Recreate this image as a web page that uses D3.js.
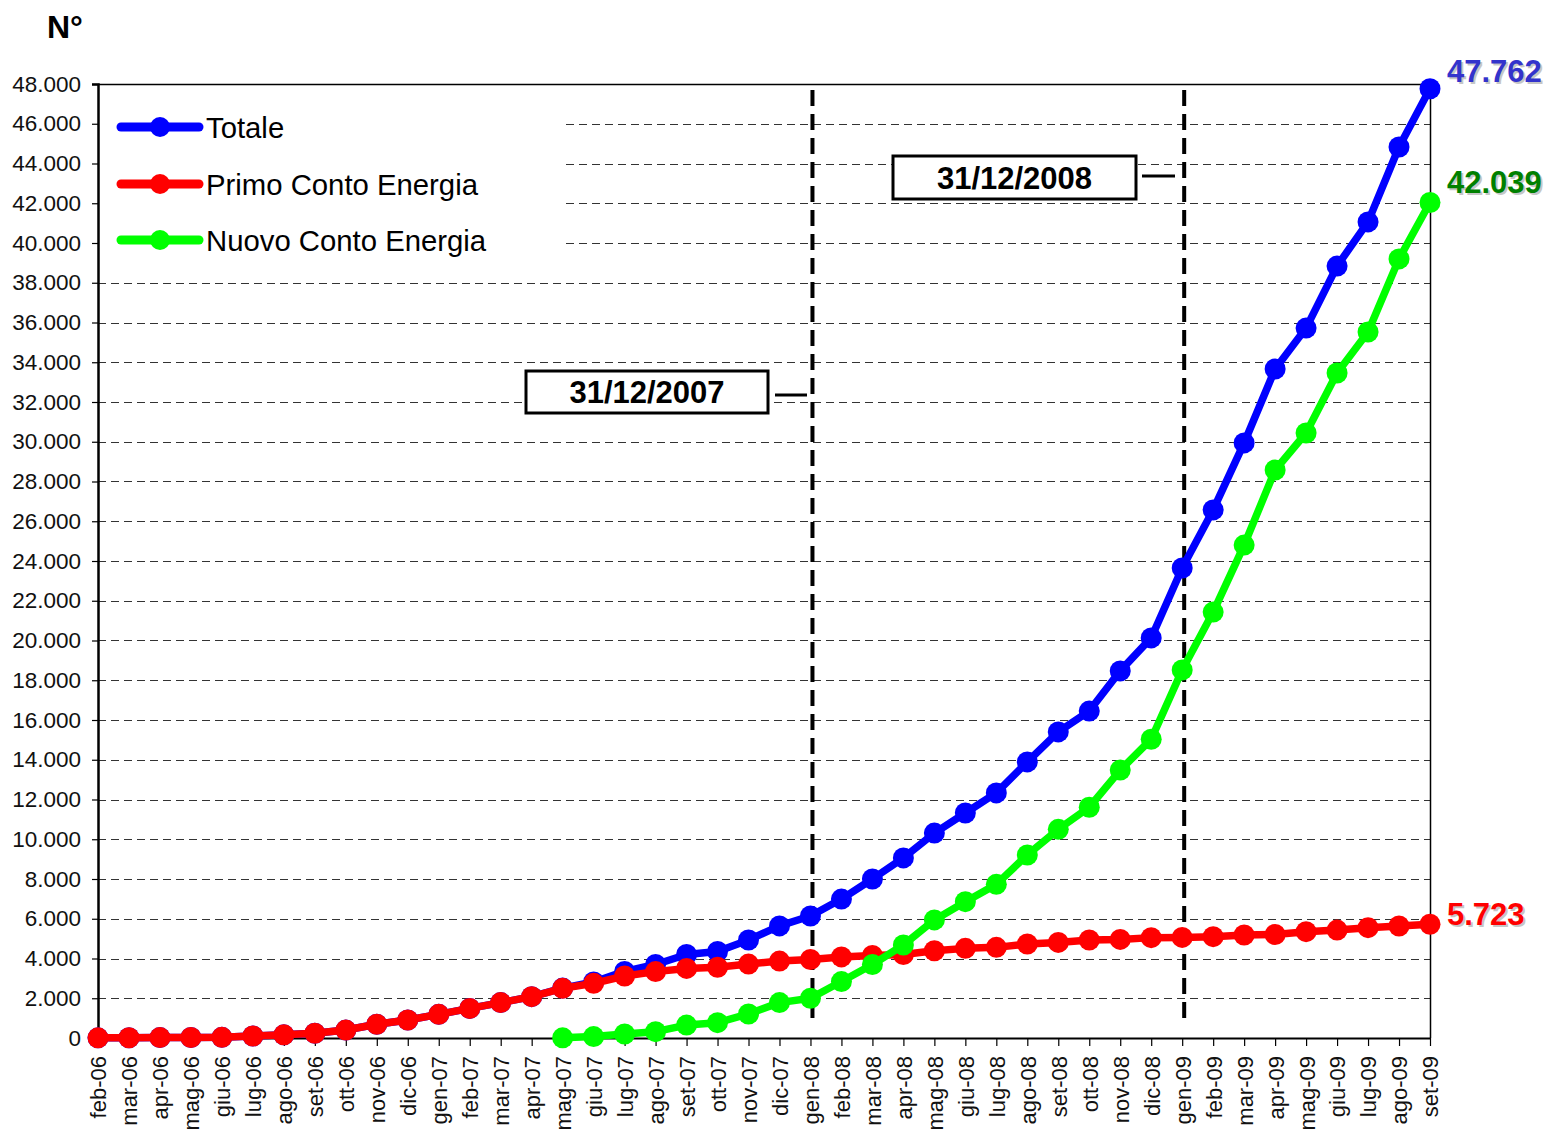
<!DOCTYPE html>
<html>
<head>
<meta charset="utf-8">
<script src="https://cdn.jsdelivr.net/npm/d3@7"></script>
<style>
  html, body { margin: 0; padding: 0; background: #fff; }
  svg { display: block; }
  text { font-family: "Liberation Sans", Arial, sans-serif; }
</style>
</head>
<body>
<svg id="chart" width="1550" height="1132"></svg>
<script>
const months = ["feb-06","mar-06","apr-06","mag-06","giu-06","lug-06","ago-06","set-06","ott-06","nov-06","dic-06",
  "gen-07","feb-07","mar-07","apr-07","mag-07","giu-07","lug-07","ago-07","set-07","ott-07","nov-07","dic-07",
  "gen-08","feb-08","mar-08","apr-08","mag-08","giu-08","lug-08","ago-08","set-08","ott-08","nov-08","dic-08",
  "gen-09","feb-09","mar-09","apr-09","mag-09","giu-09","lug-09","ago-09","set-09"];

const totale = [10,15,20,25,35,100,160,240,400,690,905,1190,1490,1780,2080,
  2510,2820,3350,3700,4200,4350,4930,5640,6140,6990,8000,9060,10310,11320,12330,13890,15400,16450,18470,20130,
  23650,26570,29940,33660,35720,38840,41060,44830,47762];

const primo = [10,15,20,25,35,100,160,240,400,690,905,1190,1490,1780,2080,
  2500,2750,3120,3340,3500,3560,3720,3870,3950,4080,4150,4200,4390,4510,4560,4730,4810,4930,4960,5050,
  5060,5100,5180,5210,5350,5430,5550,5635,5723];

const nuovo = [null,null,null,null,null,null,null,null,null,null,null,null,null,null,null,
  10,70,200,320,650,770,1210,1780,2000,2840,3700,4680,5940,6860,7730,9210,10500,11610,13480,15030,
  18520,21430,24800,28580,30440,33460,35520,39200,42039];

const yTicks = d3.range(0, 48001, 2000);
const seriesNames = ["Totale", "Primo Conto Energia", "Nuovo Conto Energia"];
const seriesColors = ["#0000ff", "#ff0000", "#00ff00"];
const endLabelColors = ["#3333cc", "#ff0000", "#008000"];
const markerLines = [
  { month: "gen-08", label: "31/12/2007" },
  { month: "gen-09", label: "31/12/2008" }
];

const locale = d3.formatLocale({ decimal: ",", thousands: ".", grouping: [3], currency: ["", "€"] });
const fmt = locale.format(",d");

const svg = d3.select("#chart");
const L = 98, R = 1430, T = 84, B = 1038;
const FF = "'Liberation Sans', Arial, sans-serif";

const x = d3.scalePoint().domain(months).range([L, R]).padding(0);
const y = d3.scaleLinear().domain([0, 48000]).range([B, T]);

// Gridlines
svg.append("g").selectAll("line").data(yTicks.filter(v => v > 0 && v < 48000)).join("line")
  .attr("x1", L).attr("x2", R)
  .attr("y1", d => Math.round(y(d)) + 0.5).attr("y2", d => Math.round(y(d)) + 0.5)
  .attr("stroke", "#333").attr("stroke-width", 1).attr("stroke-dasharray", "8,5");

// Legend background (hides gridlines)
svg.append("rect").attr("x", L + 1).attr("y", 100).attr("width", 466).attr("height", 162).attr("fill", "#fff");

// Frame
svg.append("line").attr("x1", L).attr("x2", R).attr("y1", T + 0.5).attr("y2", T + 0.5).attr("stroke", "#000").attr("stroke-width", 1.5);
svg.append("line").attr("x1", R + 0.5).attr("x2", R + 0.5).attr("y1", T).attr("y2", B).attr("stroke", "#000").attr("stroke-width", 1.5);

// Y axis
const yAxis = d3.axisLeft(y).tickValues(yTicks).tickFormat(fmt).tickSize(6).tickPadding(11);
const gy = svg.append("g").attr("transform", `translate(${L},0)`).call(yAxis);
gy.select(".domain").attr("stroke-width", 2.5);
gy.selectAll(".tick line").attr("stroke-width", 1.2);
gy.selectAll("text").attr("font-size", 22.5).attr("fill", "#111").attr("font-family", FF);

// X axis
const xAxis = d3.axisBottom(x).tickSize(8).tickSizeOuter(0);
const gx = svg.append("g").attr("transform", `translate(0,${B})`).call(xAxis);
gx.select(".domain").attr("stroke-width", 2);
gx.selectAll(".tick line").attr("stroke-width", 1.2);
gx.selectAll("text").attr("font-size", 22).attr("fill", "#111").attr("font-family", FF)
  .attr("text-anchor", "end")
  .attr("transform", "translate(0,18) rotate(-90)")
  .attr("x", 0).attr("y", 0).attr("dy", "0.36em");

// Vertical dashed date lines
svg.append("g").selectAll("line").data(markerLines).join("line")
  .attr("x1", d => x(d.month) + 2).attr("x2", d => x(d.month) + 2)
  .attr("y1", 90).attr("y2", 1024)
  .attr("stroke", "#000").attr("stroke-width", 4).attr("stroke-dasharray", "16,8");

// Series
const seriesData = [totale, primo, nuovo];
const lineGen = d3.line().defined(d => d.v != null).x(d => x(d.m)).y(d => y(d.v));
seriesData.forEach((vals, i) => {
  const pts = months.map((m, j) => ({ m, v: vals[j] }));
  const g = svg.append("g");
  g.append("path").datum(pts).attr("d", lineGen)
    .attr("fill", "none").attr("stroke", seriesColors[i]).attr("stroke-width", 7.5)
    .attr("stroke-linejoin", "round");
  g.selectAll("circle").data(pts.filter(d => d.v != null)).join("circle")
    .attr("cx", d => x(d.m)).attr("cy", d => y(d.v)).attr("r", 10.5)
    .attr("fill", seriesColors[i]);
});

// End labels
seriesData.forEach((vals, i) => {
  const last = vals[vals.length - 1];
  const offs = [-7, 1, -9][i];
  const tx = R + 17, ty = y(last) + offs;
  svg.append("text").attr("x", tx + 2).attr("y", ty + 2).text(fmt(last))
    .attr("font-size", 31).attr("font-weight", "bold").attr("fill", "#000").attr("opacity", 0.22);
  svg.append("text").attr("x", tx).attr("y", ty).text(fmt(last))
    .attr("font-size", 31).attr("font-weight", "bold").attr("fill", endLabelColors[i]);
});

// Date boxes
const boxes = [
  { x: 526, y: 371, w: 242, h: 42, lx1: 775, lx2: 807, ly: 395 },
  { x: 893, y: 156, w: 243, h: 43, lx1: 1142, lx2: 1175, ly: 176 }
];
markerLines.forEach((d, i) => {
  const b = boxes[i];
  svg.append("rect").attr("x", b.x).attr("y", b.y).attr("width", b.w).attr("height", b.h)
    .attr("fill", "#fff").attr("stroke", "#000").attr("stroke-width", 3);
  svg.append("text").attr("x", b.x + b.w / 2).attr("y", b.y + b.h / 2 + 11)
    .attr("text-anchor", "middle").attr("font-size", 31).attr("font-weight", "bold").text(d.label);
  svg.append("line").attr("x1", b.lx1).attr("x2", b.lx2).attr("y1", b.ly).attr("y2", b.ly)
    .attr("stroke", "#000").attr("stroke-width", 3);
});

// Legend
const legendY = [127, 184, 240];
seriesNames.forEach((name, i) => {
  const g = svg.append("g");
  g.append("line").attr("x1", 121).attr("x2", 199).attr("y1", legendY[i]).attr("y2", legendY[i])
    .attr("stroke", seriesColors[i]).attr("stroke-width", 9).attr("stroke-linecap", "round");
  g.append("circle").attr("cx", 160).attr("cy", legendY[i]).attr("r", 10).attr("fill", seriesColors[i]);
  g.append("text").attr("x", 206).attr("y", legendY[i] + 11).attr("font-size", 29.3).attr("fill", "#000").text(name);
});

// Y axis title
svg.append("text").attr("x", 47).attr("y", 38).attr("font-size", 32).attr("font-weight", "bold").text("N°");
</script>
</body>
</html>
